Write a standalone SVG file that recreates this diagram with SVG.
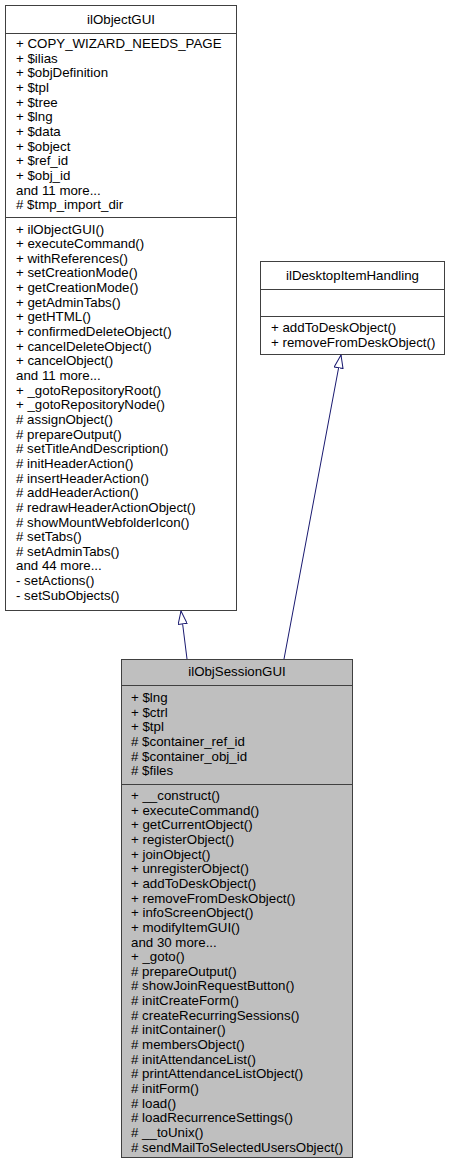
<svg xmlns="http://www.w3.org/2000/svg" width="450" height="1167" viewBox="0 0 450 1167">
<style>
.box{fill:#ffffff;stroke:#404040;stroke-width:1}
.hl{fill:#bfbfbf;stroke:#404040;stroke-width:1}
.sep{stroke:#404040;stroke-width:1}
text{font-family:"Liberation Sans",Arial,Helvetica,sans-serif;font-size:13.3px;fill:#000000}
.t{text-anchor:middle}
.edge{stroke:#191970;stroke-width:1;fill:none;marker-end:url(#tri)}
</style>
<defs>
<marker id="tri" viewBox="0 0 14 10" refX="13.5" refY="5" markerUnits="userSpaceOnUse" markerWidth="14" markerHeight="10" orient="auto">
<path d="M0.5,0.5 L13.5,5 L0.5,9.5 Z" fill="#ffffff" stroke="#191970" stroke-width="1"/>
</marker>
</defs>
<rect width="450" height="1167" fill="#ffffff"/>
<g id="node-ilObjectGUI">
<rect class="box" x="5.5" y="5.5" width="231" height="605"/>
<line class="sep" x1="5.5" y1="33.5" x2="236.5" y2="33.5"/>
<line class="sep" x1="5.5" y1="217.5" x2="236.5" y2="217.5"/>
<text class="t" x="121" y="24">ilObjectGUI</text>
<text x="16" y="48">+ COPY_WIZARD_NEEDS_PAGE</text>
<text x="16" y="62.6">+ $ilias</text>
<text x="16" y="77.3">+ $objDefinition</text>
<text x="16" y="91.9">+ $tpl</text>
<text x="16" y="106.6">+ $tree</text>
<text x="16" y="121.2">+ $lng</text>
<text x="16" y="135.9">+ $data</text>
<text x="16" y="150.5">+ $object</text>
<text x="16" y="165.2">+ $ref_id</text>
<text x="16" y="179.8">+ $obj_id</text>
<text x="16" y="194.5">and 11 more...</text>
<text x="16" y="209.1"># $tmp_import_dir</text>
<text x="16" y="233.5">+ ilObjectGUI()</text>
<text x="16" y="248.1">+ executeCommand()</text>
<text x="16" y="262.8">+ withReferences()</text>
<text x="16" y="277.4">+ setCreationMode()</text>
<text x="16" y="292.1">+ getCreationMode()</text>
<text x="16" y="306.7">+ getAdminTabs()</text>
<text x="16" y="321.4">+ getHTML()</text>
<text x="16" y="336">+ confirmedDeleteObject()</text>
<text x="16" y="350.7">+ cancelDeleteObject()</text>
<text x="16" y="365.3">+ cancelObject()</text>
<text x="16" y="380">and 11 more...</text>
<text x="16" y="394.6">+ _gotoRepositoryRoot()</text>
<text x="16" y="409.3">+ _gotoRepositoryNode()</text>
<text x="16" y="423.9"># assignObject()</text>
<text x="16" y="438.6"># prepareOutput()</text>
<text x="16" y="453.2"># setTitleAndDescription()</text>
<text x="16" y="467.9"># initHeaderAction()</text>
<text x="16" y="482.5"># insertHeaderAction()</text>
<text x="16" y="497.2"># addHeaderAction()</text>
<text x="16" y="511.8"># redrawHeaderActionObject()</text>
<text x="16" y="526.5"># showMountWebfolderIcon()</text>
<text x="16" y="541.1"># setTabs()</text>
<text x="16" y="555.8"># setAdminTabs()</text>
<text x="16" y="570.4">and 44 more...</text>
<text x="16" y="585.1">- setActions()</text>
<text x="16" y="599.7">- setSubObjects()</text>
</g>
<g id="node-ilDesktopItemHandling">
<rect class="box" x="260.5" y="261.5" width="184" height="93"/>
<line class="sep" x1="260.5" y1="289.5" x2="444.5" y2="289.5"/>
<line class="sep" x1="260.5" y1="316.5" x2="444.5" y2="316.5"/>
<text class="t" x="352.5" y="279.5">ilDesktopItemHandling</text>
<text x="271" y="332">+ addToDeskObject()</text>
<text x="271" y="346.6">+ removeFromDeskObject()</text>
</g>
<g id="node-ilObjSessionGUI">
<rect class="hl" x="121.5" y="659.5" width="231" height="498"/>
<line class="sep" x1="121.5" y1="685.5" x2="352.5" y2="685.5"/>
<line class="sep" x1="121.5" y1="784.5" x2="352.5" y2="784.5"/>
<text class="t" x="237" y="676">ilObjSessionGUI</text>
<text x="131" y="702">+ $lng</text>
<text x="131" y="716.6">+ $ctrl</text>
<text x="131" y="731.3">+ $tpl</text>
<text x="131" y="745.9"># $container_ref_id</text>
<text x="131" y="760.6"># $container_obj_id</text>
<text x="131" y="775.2"># $files</text>
<text x="131" y="800">+ __construct()</text>
<text x="131" y="814.6">+ executeCommand()</text>
<text x="131" y="829.3">+ getCurrentObject()</text>
<text x="131" y="843.9">+ registerObject()</text>
<text x="131" y="858.6">+ joinObject()</text>
<text x="131" y="873.2">+ unregisterObject()</text>
<text x="131" y="887.9">+ addToDeskObject()</text>
<text x="131" y="902.5">+ removeFromDeskObject()</text>
<text x="131" y="917.2">+ infoScreenObject()</text>
<text x="131" y="931.8">+ modifyItemGUI()</text>
<text x="131" y="946.5">and 30 more...</text>
<text x="131" y="961.1">+ _goto()</text>
<text x="131" y="975.8"># prepareOutput()</text>
<text x="131" y="990.4"># showJoinRequestButton()</text>
<text x="131" y="1005.1"># initCreateForm()</text>
<text x="131" y="1019.7"># createRecurringSessions()</text>
<text x="131" y="1034.4"># initContainer()</text>
<text x="131" y="1049"># membersObject()</text>
<text x="131" y="1063.7"># initAttendanceList()</text>
<text x="131" y="1078.3"># printAttendanceListObject()</text>
<text x="131" y="1093"># initForm()</text>
<text x="131" y="1107.6"># load()</text>
<text x="131" y="1122.3"># loadRecurrenceSettings()</text>
<text x="131" y="1136.9"># __toUnix()</text>
<text x="131" y="1151.6"># sendMailToSelectedUsersObject()</text>
</g>
<g id="connectors">
<line class="edge" x1="187" y1="659" x2="181" y2="611"/>
<line class="edge" x1="284" y1="659" x2="341" y2="355"/>
</g>
</svg>
